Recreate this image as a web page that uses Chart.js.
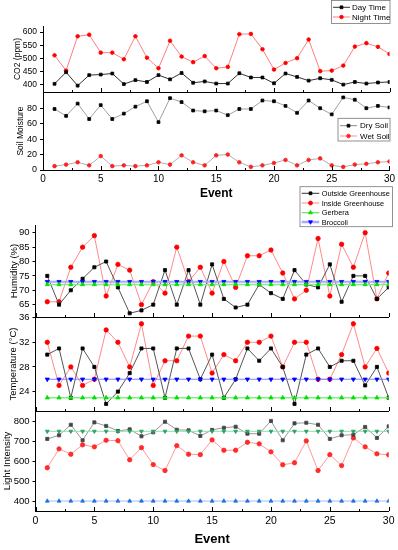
<!DOCTYPE html>
<html><head><meta charset="utf-8">
<script src="https://cdn.jsdelivr.net/npm/chart.js@4/dist/chart.umd.min.js"></script>
<style>
html,body{margin:0;padding:0;background:#fff;}
#wrap{position:relative;width:398px;height:550px;overflow:hidden;}
canvas{position:absolute;left:0;top:0;}
</style></head><body>
<div id="wrap">
<canvas id="c1" width="398" height="550"></canvas>
<canvas id="c2" width="398" height="550"></canvas>
<canvas id="c3" width="398" height="550"></canvas>
<canvas id="c4" width="398" height="550"></canvas>
<canvas id="c5" width="398" height="550"></canvas>
</div>
<script>
// ---------- DATA ----------
const events = [1,2,3,4,5,6,7,8,9,10,11,12,13,14,15,16,17,18,19,20,21,22,23,24,25,26,27,28,29,30];
const xTickValues = [0,5,10,15,20,25,30];

const co2Day   = [404,448,397,437,439,443,403,418,411,437,421,445,408,413,405,405,444,428,428,406,443,430,416,425,419,401,411,405,409,411];
const co2Night = [512,454,584,590,522,522,497,584,503,463,567,507,486,509,463,468,592,593,535,458,483,501,572,452,454,473,545,558,544,517];
const co2Ticks = [400,450,500,550,600];

const soilDry = [79,70,86,66,84,66,73,82,89,62,93,88,77,76,77,71,79,79,90,89,83,74,90,80,72,94,91,80,83,81];
const soilWet = [5,7,10,6,18,5,6,5,6,10,7,19,10,6,19,20,10,4,6,9,13,6,13,15,6,4,7,8,10,11];
const soilTicks = [0,20,40,60,80];

const humOutside = [75,65,70,74,78,80,71,62,63,65,77,65,77,65,79,67,64,65,72,69,67,77,72,71,79,66,75,75,67,71];
const humInside  = [66,66,78,85,89,68,79,77,65,73,69,85,73,78,69,80,71,82,82,84,76,67,70,88,68,86,78,90,67,76];
const humGerbera  = [72,72,72,72,72,72,72,72,72,72,72,72,72,72,72,72,72,72,72,72,72,72,72,72,72,72,72,72,72,72];
const humBroccoli = [73,73,73,73,73,73,73,73,73,73,73,73,73,73,73,73,73,73,73,73,73,73,73,73,73,73,73,73,73,73];
const humTicks = [65,70,75,80,85,90];

const tempOutside = [30,31,23,31,28,22,24,27,31,31,23,31,31,26,30,23,26,31,29,31,28,22,30,31,28,29,29,25,28,23];
const tempInside  = [32,25,28,25,26,34,32,28,35,25,29,29,33,33,27,30,29,32,32,33,28,32,32,26,26,30,35,28,31,27];
const tempGerbera  = [23,23,23,23,23,23,23,23,23,23,23,23,23,23,23,23,23,23,23,23,23,23,23,23,23,23,23,23,23,23];
const tempBroccoli = [26,26,26,26,26,26,26,26,26,26,26,26,26,26,26,26,26,26,26,26,26,26,26,26,26,26,26,26,26,26];
const tempTicks = [24,28,32,36];

const lightOutside = [712,730,783,705,795,777,752,760,725,745,798,758,755,727,757,768,773,738,738,802,705,790,793,783,712,730,733,772,717,775];
const lightInside  = [567,662,635,682,672,705,703,607,668,583,553,678,635,633,707,655,655,695,687,647,582,592,702,553,633,578,717,672,637,632];
const lightHigh = [750,750,750,750,750,750,750,750,750,750,750,750,750,750,750,750,750,750,750,750,750,750,750,750,750,750,750,750,750,750];
const lightLow  = [400,400,400,400,400,400,400,400,400,400,400,400,400,400,400,400,400,400,400,400,400,400,400,400,400,400,400,400,400,400];
const lightTicks = [400,500,600,700,800];

// ---------- STYLE ----------
const FF = "'Liberation Sans', Arial, Helvetica, sans-serif";
const W = 398, H = 550;

function pts(vals){ return vals.map((v,i)=>({x:events[i], y:v})); }
function ds(label, vals, line, lw, pstyle, pcolor, r, rot){
  return {label, data:pts(vals), borderColor:line, borderWidth:lw, tension:0,
    pointStyle:pstyle, pointRadius:r, pointRotation:rot||0,
    pointBackgroundColor:pcolor, pointBorderColor:pcolor, pointBorderWidth:0.8, fill:false};
}

const innerTicks = {
  id:'innerTicks',
  afterDraw(chart){
    const ctx = chart.ctx, ca = chart.chartArea, xs = chart.scales.x;
    ctx.save(); ctx.strokeStyle='#000'; ctx.lineWidth=1;
    for (let v=0; v<=30; v+=2.5){
      const x = Math.round(xs.getPixelForValue(v))+0.5;
      const len = (v%5===0)?4:2;
      ctx.beginPath(); ctx.moveTo(x, ca.bottom); ctx.lineTo(x, ca.bottom-len); ctx.stroke();
    }
    ctx.restore();
  }
};

const boxLegend = {
  id:'boxLegend',
  afterDraw(chart, args, o){
    if (!o || !o.rows) return;
    const ctx = chart.ctx;
    ctx.save();
    ctx.fillStyle='#fff'; ctx.fillRect(o.x,o.y,o.w,o.h);
    ctx.strokeStyle='#777'; ctx.lineWidth=0.8; ctx.strokeRect(o.x,o.y,o.w,o.h);
    ctx.font = o.font + 'px ' + FF; ctx.textBaseline='middle'; ctx.textAlign='left';
    for (const r of o.rows){
      ctx.strokeStyle=r.line; ctx.lineWidth=r.lw;
      ctx.beginPath(); ctx.moveTo(o.lx0,r.y); ctx.lineTo(o.lx1,r.y); ctx.stroke();
      ctx.fillStyle=r.pc; ctx.strokeStyle=r.pc; ctx.lineWidth=0.8;
      Chart.helpers.drawPoint(ctx,{pointStyle:r.ps, rotation:r.rot||0, radius:r.r, borderWidth:0.8},(o.lx0+o.lx1)/2,r.y);
      ctx.fillStyle='#000';
      ctx.fillText(r.text, o.tx, r.y+0.5);
    }
    ctx.restore();
  }
};

function panel(id, p){
  const showX = !!p.xTitle;
  const xH = showX ? p.xH : 0;
  return new Chart(document.getElementById(id), {
    type:'line',
    data:{datasets:p.datasets},
    options:{
      responsive:false, animation:false, events:[],
      layout:{padding:{left:0, right:W-p.right, top:p.top, bottom:H-p.bottom-xH}},
      plugins:{legend:{display:false}, tooltip:{enabled:false}, boxLegend:p.legend||{}},
      scales:{
        x:{type:'linear', min:0, max:30, position:'bottom',
          afterBuildTicks:s=>{s.ticks = xTickValues.map(v=>({value:v}));},
          afterFit:s=>{s.height = xH;},
          ticks:{display:showX, padding:p.xPad||3, color:'#000', maxRotation:0, autoSkip:false,
                 font:{family:FF, size:p.xFont||10}},
          grid:{display:true, drawOnChartArea:false, drawTicks:false, color:'#000'},
          border:{display:true, color:'#000', width:1},
          title:{display:showX, text:p.xTitle||'', color:'#000', padding:0,
                 font:{family:FF, size:p.xTitleFont||12, weight:'bold'}}
        },
        y:{type:'linear', min:p.min, max:p.max, position:'left',
          afterBuildTicks:s=>{s.ticks = p.ticks.map(v=>({value:v}));},
          afterFit:s=>{s.width = p.left;},
          ticks:{padding:3, color:'#000', font:{family:FF, size:p.yFont}},
          grid:{display:true, drawOnChartArea:false, drawTicks:true, tickLength:3, color:'#000'},
          border:{display:true, color:'#000', width:1},
          title:{display:true, text:p.yTitle, color:'#000',
                 padding:{top:p.titleX - p.yTitleFont*0.6, bottom:0},
                 font:{family:FF, size:p.yTitleFont}}
        }
      }
    },
    plugins:[innerTicks, boxLegend]
  });
}

// ---------- TOP FIGURE ----------
panel('c1', {left:43, right:389.5, top:26, bottom:92, min:373, max:623, ticks:co2Ticks,
  yTitle:'CO2 (ppm)', titleX:18, yTitleFont:8.5, yFont:8.5,
  datasets:[
    ds('Day Time', co2Day, '#333', 1, 'rect', '#000', 2),
    ds('Night Time', co2Night, '#ff7f7f', 1, 'circle', '#ff0000', 1.8)
  ],
  legend:{x:331.5, y:0.5, w:58.5, h:23, lx0:333, lx1:350, tx:352, font:8,
    rows:[
      {text:'Day Time', y:7.3, line:'#333', lw:1, ps:'rect', pc:'#000', r:2},
      {text:'Night Time', y:17, line:'#ff7f7f', lw:1, ps:'circle', pc:'#ff0000', r:1.8}
    ]}
});

panel('c2', {left:43, right:389.5, top:92, bottom:170, min:0, max:101, ticks:soilTicks,
  yTitle:'Soil Moisture', titleX:21, yTitleFont:8.5, yFont:9,
  xTitle:'Event', xTitleFont:12, xH:31.2, xFont:10, xPad:3,
  datasets:[
    ds('Dry Soil', soilDry, '#a0a0a0', 1, 'rect', '#000', 2),
    ds('Wet Soil', soilWet, '#b0b0b0', 1, 'circle', '#ff2020', 1.8)
  ],
  legend:{x:338, y:118.3, w:52, h:22.7, lx0:340, lx1:357, tx:360, font:8,
    rows:[
      {text:'Dry Soil', y:125.7, line:'#888', lw:1, ps:'rect', pc:'#000', r:2},
      {text:'Wet Soil', y:136, line:'#ff9090', lw:1, ps:'circle', pc:'#ff2020', r:1.8}
    ]}
});

// ---------- BOTTOM FIGURE ----------
panel('c3', {left:35.5, right:388.7, top:225, bottom:317, min:60.7, max:92.7, ticks:humTicks,
  yTitle:'Humidity (%)', titleX:14, yTitleFont:9.5, yFont:9.5,
  datasets:[
    ds('Gerbera', humGerbera, '#80f080', 1.5, 'triangle', '#00e000', 2.4),
    ds('Broccoli', humBroccoli, '#a8a8ff', 2, 'triangle', '#0000ff', 2.4, 180),
    ds('Outside Greenhouse', humOutside, '#555', 1, 'rect', '#000', 2.2),
    ds('Inside Greenhouse', humInside, '#ff8a8a', 1, 'circle', '#ff0000', 2.2)
  ]
});

panel('c4', {left:35.5, right:388.7, top:317, bottom:411, min:20.85, max:36.1, ticks:tempTicks,
  yTitle:'Temperature (\u00B0C)', titleX:13, yTitleFont:9.5, yFont:9.5,
  datasets:[
    ds('Gerbera', tempGerbera, '#80f080', 1.5, 'triangle', '#00e000', 2.4),
    ds('Broccoli', tempBroccoli, '#8080ff', 1.2, 'triangle', '#0000ff', 2.4, 180),
    ds('Outside Greenhouse', tempOutside, '#555', 1, 'rect', '#000', 2.2),
    ds('Inside Greenhouse', tempInside, '#ff8a8a', 1, 'circle', '#ff0000', 2.2)
  ]
});

panel('c5', {left:35.5, right:388.7, top:411, bottom:511, min:350, max:852, ticks:lightTicks,
  yTitle:'Light Intensity', titleX:7, yTitleFont:9.5, yFont:9.5,
  xTitle:'Event', xTitleFont:13, xH:35.8, xFont:10.5, xPad:3.4,
  datasets:[
    ds('Low', lightLow, '#9cc0f5', 1, 'triangle', '#1f6fe0', 2.2),
    ds('High', lightHigh, '#90e0b0', 1, 'triangle', '#2aa060', 2.2, 180),
    ds('Outside Greenhouse', lightOutside, '#999', 1, 'rect', '#444', 2.2),
    ds('Inside Greenhouse', lightInside, '#ff9a9a', 1, 'circle', '#ff2a2a', 2.2)
  ],
  legend:{x:300, y:186.7, w:92.5, h:40, lx0:301.7, lx1:319.3, tx:321.7, font:7.4,
    rows:[
      {text:'Outside Greenhouse', y:193.3, line:'#333', lw:1, ps:'rect', pc:'#000', r:2},
      {text:'Inside Greenhouse', y:203, line:'#ff8a8a', lw:1, ps:'circle', pc:'#ff0000', r:2},
      {text:'Gerbera', y:212.7, line:'#60e060', lw:1.2, ps:'triangle', pc:'#00e000', r:2.3},
      {text:'Broccoli', y:222, line:'#a8a8ff', lw:2.5, ps:'triangle', pc:'#0000ff', r:2.3, rot:180}
    ]}
});
</script>
</body></html>
